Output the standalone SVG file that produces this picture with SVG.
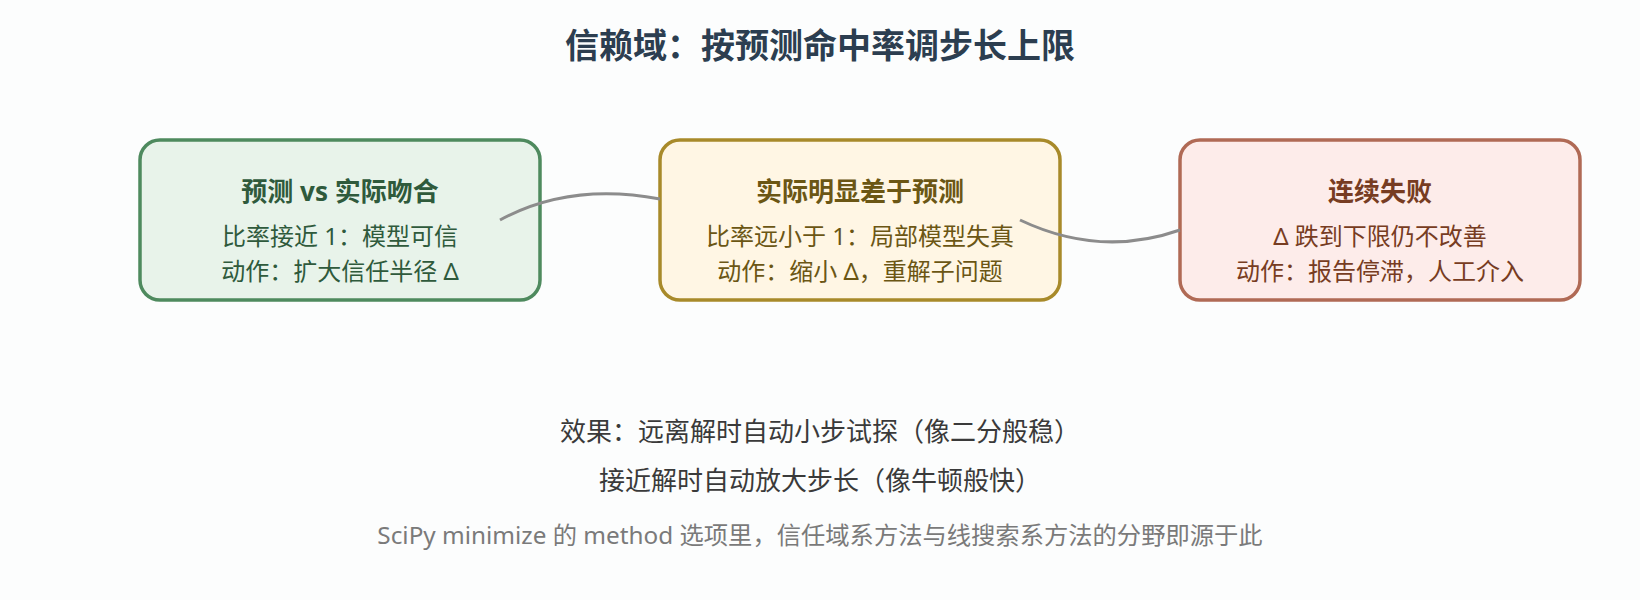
<svg xmlns="http://www.w3.org/2000/svg" width="1640" height="600" viewBox="0 0 1640 600">
  <style>
    text { font-family: "Noto Sans", "Noto Sans CJK SC", sans-serif; text-anchor: middle; }
    .title { font-size: 34px; font-weight: 700; fill: #2c3e50; }
    .ntitle { font-size: 26px; font-weight: 700; }
    .nline { font-size: 24px; }
    .box { stroke-width: 3.5; }
    .g .box { fill: #e8f3ea; stroke: #4e8a5e; }
    .g text { fill: #2f5a3c; }
    .y .box { fill: #fff6e4; stroke: #a88a2a; }
    .y text { fill: #6b5614; }
    .r .box { fill: #fdecea; stroke: #b06a55; }
    .r text { fill: #773c22; }
    .conn path { fill: none; stroke: #8c8c8c; stroke-width: 3; }
    .effect { font-size: 26px; fill: #3a3a3a; }
    .foot { font-size: 24.3px; fill: #7a7a7a; }
  </style>
  <rect width="1640" height="600" fill="#fcfdfd"/>
  <text class="title" x="820" y="58">信赖域：按预测命中率调步长上限</text>

  <g id="node-fit" class="g">
    <rect class="box" x="140" y="140" width="400" height="160" rx="20"/>
    <text class="ntitle" x="340" y="201">预测 vs 实际吻合</text>
    <text class="nline" x="340" y="245">比率接近 1：模型可信</text>
    <text class="nline" x="340" y="280">动作：扩大信任半径 Δ</text>
  </g>

  <g id="node-worse" class="y">
    <rect class="box" x="660" y="140" width="400" height="160" rx="20"/>
    <text class="ntitle" x="860" y="201">实际明显差于预测</text>
    <text class="nline" x="860" y="245">比率远小于 1：局部模型失真</text>
    <text class="nline" x="860" y="280">动作：缩小 Δ，重解子问题</text>
  </g>

  <g id="node-fail" class="r">
    <rect class="box" x="1180" y="140" width="400" height="160" rx="20"/>
    <text class="ntitle" x="1380" y="201">连续失败</text>
    <text class="nline" x="1380" y="245">Δ 跌到下限仍不改善</text>
    <text class="nline" x="1380" y="280">动作：报告停滞，人工介入</text>
  </g>

  <g id="connectors" class="conn">
    <path d="M500,220 Q570,182 660,199"/>
    <path d="M1020,220 Q1100,258 1180,230"/>
  </g>

  <g id="notes">
    <text class="effect" x="820" y="441">效果：远离解时自动小步试探（像二分般稳）</text>
    <text class="effect" x="820" y="490">接近解时自动放大步长（像牛顿般快）</text>
    <text class="foot" x="820" y="544">SciPy minimize 的 method 选项里，信任域系方法与线搜索系方法的分野即源于此</text>
  </g>
</svg>
